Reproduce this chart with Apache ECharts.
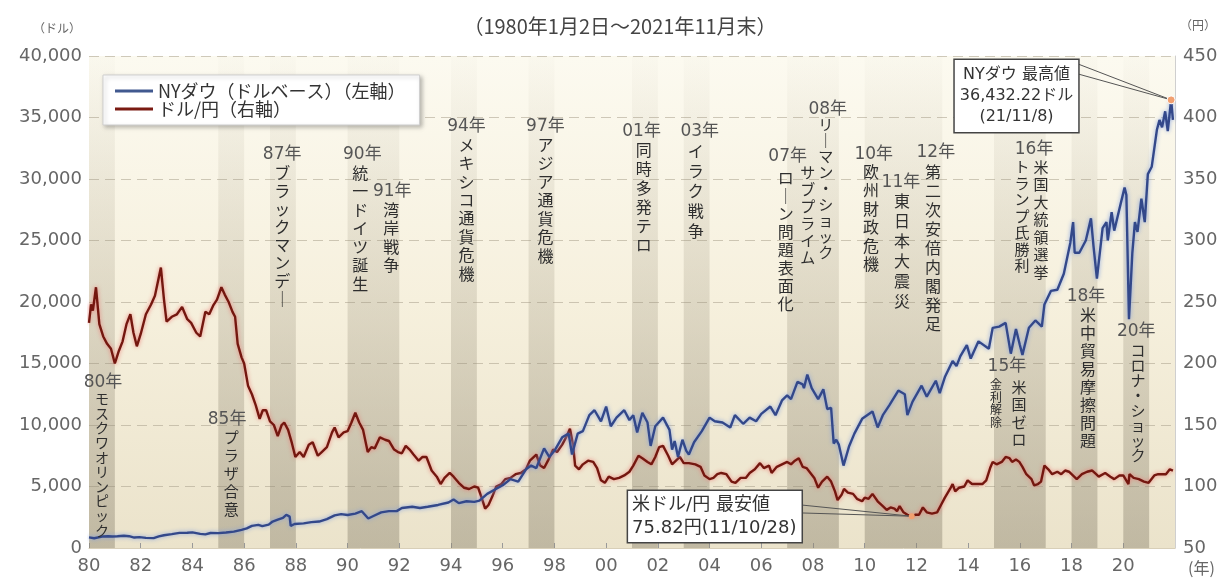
<!DOCTYPE html>
<html><head><meta charset="utf-8">
<script src="https://cdn.jsdelivr.net/npm/echarts@6/dist/echarts.min.js"></script>
<style>html,body{margin:0;padding:0;background:#fff}#c{width:1223px;height:579px}</style>
</head><body><div id="c"></div>
<script>
// ---------- DATA ----------
const dowT = [1980.00,1980.20,1980.50,1980.75,1980.90,1981.10,1981.35,1981.55,1981.75,1981.95,1982.20,1982.50,1982.70,1982.90,1983.20,1983.50,1983.80,1984.00,1984.30,1984.50,1984.70,1985.00,1985.30,1985.60,1985.90,1986.10,1986.30,1986.55,1986.70,1986.95,1987.10,1987.30,1987.50,1987.63,1987.76,1987.80,1987.95,1988.30,1988.60,1988.90,1989.20,1989.50,1989.75,1990.00,1990.30,1990.55,1990.80,1991.00,1991.30,1991.60,1991.90,1992.10,1992.50,1992.80,1993.10,1993.50,1993.90,1994.10,1994.30,1994.60,1994.90,1995.10,1995.40,1995.70,1996.00,1996.30,1996.60,1996.90,1997.10,1997.30,1997.60,1997.80,1998.00,1998.30,1998.55,1998.68,1998.90,1999.10,1999.35,1999.55,1999.80,2000.00,2000.18,2000.40,2000.70,2000.90,2001.05,2001.20,2001.40,2001.60,2001.72,2001.90,2002.20,2002.45,2002.55,2002.65,2002.78,2002.95,2003.10,2003.20,2003.40,2003.70,2004.00,2004.20,2004.50,2004.80,2004.98,2005.30,2005.55,2005.80,2006.00,2006.35,2006.55,2006.80,2007.00,2007.15,2007.40,2007.60,2007.65,2007.78,2007.95,2008.20,2008.40,2008.55,2008.70,2008.80,2008.90,2009.00,2009.18,2009.40,2009.60,2009.90,2010.30,2010.50,2010.70,2010.95,2011.30,2011.55,2011.65,2011.85,2012.20,2012.40,2012.75,2012.90,2013.10,2013.40,2013.55,2013.70,2013.95,2014.10,2014.40,2014.80,2014.95,2015.20,2015.45,2015.65,2015.85,2016.00,2016.10,2016.35,2016.60,2016.85,2016.95,2017.20,2017.45,2017.70,2017.95,2018.06,2018.12,2018.30,2018.55,2018.75,2018.85,2018.98,2019.20,2019.35,2019.40,2019.55,2019.65,2019.90,2020.05,2020.12,2020.22,2020.35,2020.45,2020.55,2020.70,2020.83,2020.95,2021.10,2021.30,2021.40,2021.50,2021.62,2021.72,2021.85,2021.92];
const dowV = [860,790,930,960,930,960,1000,960,850,880,820,800,940,1040,1130,1230,1240,1270,1150,1110,1220,1210,1260,1330,1480,1600,1800,1880,1780,1900,2150,2300,2450,2700,2550,1800,1950,2000,2100,2150,2350,2650,2750,2680,2800,2990,2400,2600,2900,3000,3000,3250,3350,3250,3350,3500,3700,3950,3650,3800,3750,3850,4400,4750,5100,5600,5400,6400,6700,6500,8100,7400,7900,9000,9300,7600,9300,9500,10800,11200,10300,11500,9900,10600,11200,10400,10800,9400,11000,10200,8300,9900,10600,9600,8000,8700,7400,8800,7900,7600,8600,9500,10600,10300,10200,9800,10800,10100,10600,10300,10900,11500,10800,12000,12400,12100,13500,13300,13000,14100,13000,12100,12900,11300,11400,8500,8800,8400,6700,8300,9300,10500,11100,9800,10800,11600,12800,12500,10800,11900,13200,12300,13600,12600,13900,15200,14800,15600,16500,15400,16800,16200,17900,18000,18300,15800,17800,16500,15700,17900,18500,18000,19800,20900,21000,22300,24800,26500,24000,24000,25000,26800,24500,21900,26000,26500,25000,27300,25800,28000,29300,28700,18600,24000,26500,25700,28400,26500,30400,31000,34000,34800,34200,35500,33900,36432,34800];

const yenT = [1980.00,1980.08,1980.15,1980.27,1980.40,1980.55,1980.70,1980.85,1981.00,1981.15,1981.30,1981.45,1981.60,1981.72,1981.85,1982.00,1982.20,1982.40,1982.55,1982.65,1982.78,1982.90,1983.00,1983.20,1983.40,1983.60,1983.80,1983.95,1984.15,1984.30,1984.50,1984.65,1984.80,1984.95,1985.12,1985.25,1985.40,1985.55,1985.65,1985.75,1985.90,1986.00,1986.15,1986.30,1986.45,1986.60,1986.72,1986.85,1987.00,1987.15,1987.30,1987.45,1987.55,1987.70,1987.85,1987.98,1988.15,1988.30,1988.50,1988.65,1988.85,1989.00,1989.20,1989.40,1989.50,1989.65,1989.85,1990.00,1990.15,1990.30,1990.45,1990.60,1990.78,1990.92,1991.05,1991.25,1991.45,1991.60,1991.80,1991.95,1992.10,1992.25,1992.40,1992.55,1992.75,1992.90,1993.05,1993.25,1993.45,1993.60,1993.75,1993.95,1994.10,1994.30,1994.50,1994.70,1994.90,1995.05,1995.20,1995.32,1995.45,1995.60,1995.75,1995.95,1996.10,1996.30,1996.50,1996.70,1996.90,1997.05,1997.30,1997.45,1997.60,1997.75,1997.95,1998.10,1998.30,1998.50,1998.60,1998.72,1998.80,1998.95,1999.10,1999.30,1999.50,1999.65,1999.80,1999.95,2000.10,2000.30,2000.50,2000.70,2000.90,2001.05,2001.25,2001.40,2001.60,2001.75,2001.90,2002.05,2002.20,2002.40,2002.55,2002.70,2002.85,2003.00,2003.20,2003.45,2003.65,2003.80,2004.00,2004.15,2004.30,2004.45,2004.65,2004.85,2005.00,2005.20,2005.40,2005.55,2005.75,2005.95,2006.10,2006.30,2006.40,2006.60,2006.80,2007.00,2007.15,2007.30,2007.45,2007.60,2007.75,2007.90,2008.05,2008.20,2008.35,2008.55,2008.70,2008.85,2008.95,2009.10,2009.20,2009.35,2009.55,2009.70,2009.90,2010.00,2010.15,2010.30,2010.50,2010.70,2010.85,2011.00,2011.15,2011.25,2011.35,2011.50,2011.65,2011.82,2011.95,2012.10,2012.25,2012.40,2012.60,2012.80,2012.95,2013.10,2013.30,2013.40,2013.50,2013.65,2013.85,2013.98,2014.15,2014.35,2014.55,2014.70,2014.85,2014.95,2015.10,2015.30,2015.45,2015.60,2015.70,2015.85,2015.98,2016.10,2016.25,2016.45,2016.55,2016.70,2016.82,2016.95,2017.10,2017.25,2017.45,2017.60,2017.75,2017.90,2018.10,2018.20,2018.40,2018.60,2018.80,2018.95,2019.05,2019.30,2019.50,2019.65,2019.85,2020.00,2020.20,2020.24,2020.40,2020.60,2020.80,2020.98,2021.20,2021.35,2021.50,2021.65,2021.80,2021.92];
const yenV = [233,248,243,262,232,222,216,212,200,210,218,232,240,225,214,224,240,248,255,265,278,252,234,238,240,246,236,233,225,222,242,240,247,252,262,256,250,242,238,216,205,200,182,175,166,155,162,162,153,150,141,150,152,146,135,124,128,124,134,136,125,128,132,144,148,140,144,145,152,160,152,146,128,132,131,140,138,137,130,128,127,133,130,126,121,124,124,113,108,102,107,111,108,103,99,98,100,99,90,82,85,92,100,102,106,107,110,111,114,121,126,117,115,121,130,128,134,142,147,134,117,114,118,121,120,115,105,103,108,106,107,109,112,117,125,123,120,118,124,132,133,125,118,121,124,119,119,118,116,109,106,107,110,111,110,104,103,107,107,111,114,119,115,117,111,116,118,120,118,121,123,116,115,111,107,99,104,108,104,96,89,93,98,95,94,90,88,91,90,94,88,84,81,83,82,80,84,79,77,75.82,77,77,83,79,78,79,85,91,98,102,96,99,100,105,102,102,102,105,115,120,118,120,124,123,120,122,120,116,110,106,101,102,104,117,114,110,112,110,113,112,108,106,110,112,113,110,108,111,108,106,109,109,102,110,107,106,104,103,109,110,110,110,114,113];

const seriesNames = ['NYダウ（ドルベース）（左軸）', 'ドル/円（右軸）'];
const bandStart = [1980,1985,1987,1990,1994,1997,2001,2003,2007,2010,2015,2018,2020];
const bandEnd   = [1981,1986,1988,1992,1995,1998,2002,2004,2009,2013,2017,2019,2021];

const eventYears = ['80年','85年','87年','90年','91年','94年','97年','01年','03年','07年','08年','10年','11年','12年','15年','16年','18年','20年'];
const eventTexts = [['モスクワオリンピック'],['プラザ合意'],['ブラックマンデー'],['統一ドイツ誕生'],['湾岸戦争'],['メキシコ通貨危機'],['アジア通貨危機'],['同時多発テロ'],['イラク戦争'],['サブプライム','ローン問題表面化'],['リーマン・ショック'],['欧州財政危機'],['東日本大震災'],['第二次安倍内閣発足'],['米国ゼロ','金利解除'],['米国大統領選挙','トランプ氏勝利'],['米中貿易摩擦問題'],['コロナ・ショック']];

const dowMax = {t:2021.85, v:36432.22, text:'NYダウ 最高値\n36,432.22ドル\n(21/11/8)'};
const yenMin = {t:2011.82, v:75.82, text:'米ドル/円 最安値\n75.82円(11/10/28)'};

// ---------- LAYOUT ----------
const FONT = "'Noto Sans CJK JP', sans-serif";
const NUMFONT = "'DejaVu Sans', 'Noto Sans CJK JP', sans-serif";
// [labelX, labelTopValue(left axis), [[colX, colTop, fontSize, lineHeight], ...]]
const eventLayout = [
 [1980.54,14230,[[1980.50,12760,14,14.6]]],
 [1985.34,11220,[[1985.50,9760,15,18]]],
 [1987.47,32760,[[1987.47,31300,16,18]]],
 [1990.57,32760,[[1990.49,31300,16,18.5]]],
 [1991.73,29760,[[1991.69,28290,16,18.5]]],
 [1994.60,35040,[[1994.60,33580,16,18.4]]],
 [1997.65,35040,[[1997.65,33580,16,18.5]]],
 [2001.37,34630,[[2001.45,33170,16,19]]],
 [2003.62,34630,[[2003.47,33170,16,20]]],
 [2007.02,32600,[[2007.80,31300,15,17],[2006.95,30890,16,18]]],
 [2008.57,36420,[[2008.49,35120,15,16]]],
 [2010.35,32760,[[2010.24,31380,16,18.5]]],
 [2011.40,30490,[[2011.44,29070,16,20]]],
 [2012.75,32930,[[2012.64,31380,16,19]]],
 [2015.50,15530,[[2015.97,13820,15,17.5],[2015.08,13820,12,12.5]]],
 [2016.55,33170,[[2016.82,31710,15,17.5],[2016.08,31710,15,16.5]]],
 [2018.56,21220,[[2018.64,19760,16,18]]],
 [2020.50,18370,[[2020.57,16750,15,15]]]
];
const vert = s => s.replace(/ー/g,'｜').split('').join('\n');

const eventPoints = [];
eventYears.forEach((y,i)=>{
  const L = eventLayout[i];
  eventPoints.push({coord:[L[0],L[1]], symbol:'circle', symbolSize:1, itemStyle:{color:'rgba(0,0,0,0)'},
    label:{show:true, position:'bottom', distance:0, formatter:y, fontSize:17, lineHeight:18, color:'#555', fontFamily:NUMFONT}});
  eventTexts[i].forEach((t,j)=>{
    const c = L[2][j];
    eventPoints.push({coord:[c[0],c[1]], symbol:'circle', symbolSize:1, itemStyle:{color:'rgba(0,0,0,0)'},
      label:{show:true, position:'bottom', distance:0, formatter:vert(t), fontSize:c[2], lineHeight:c[3], color:'#2e2e2e', fontFamily:FONT, align:'center'}});
  });
});

const bandGrad = new echarts.graphic.LinearGradient(0,0,0,1,[
  {offset:0, color:'rgba(150,142,120,0.02)'},
  {offset:0.35, color:'rgba(150,142,120,0.18)'},
  {offset:1, color:'rgba(140,132,112,0.45)'}]);

const chart = echarts.init(document.getElementById('c'));
chart.setOption({
  animation:false,
  grid:{left:89, right:48, top:56, bottom:31, show:true, borderWidth:0,
    backgroundColor:new echarts.graphic.LinearGradient(0,0,0,1,[
      {offset:0,color:'#fcfaf0'},{offset:0.5,color:'#f6f0dd'},{offset:1,color:'#ebe3cb'}])},
  graphic:[
    {type:'text', x:620, y:26, style:{text:'（1980年1月2日～2021年11月末）', fontSize:20, fontFamily:FONT, fill:'#444', align:'center', verticalAlign:'middle'}},
    {type:'text', x:33, y:22, style:{text:'（ドル）', fontSize:12, fontFamily:FONT, fill:'#666'}},
    {type:'text', x:1180, y:19, style:{text:'（円）', fontSize:12, fontFamily:FONT, fill:'#666'}},
    {type:'text', x:1188, y:560, style:{text:'(年)', fontSize:16, fontFamily:FONT, fill:'#666'}}
  ],
  legend:{left:103, top:75, orient:'vertical', itemWidth:38, itemHeight:3, itemGap:0,
    padding:[7,14,7,12], backgroundColor:'#fff', borderColor:'#cfcfcf', borderWidth:1,
    shadowColor:'rgba(0,0,0,0.25)', shadowBlur:4, shadowOffsetX:2, shadowOffsetY:2,
    textStyle:{fontSize:18, lineHeight:16, color:'#333', fontFamily:FONT},
    data:[{name:seriesNames[0], icon:'rect'},{name:seriesNames[1], icon:'rect'}]},
  xAxis:{type:'value', min:1980, max:2022, interval:2,
    axisLine:{show:true, lineStyle:{color:'#d8cfb8'}},
    axisTick:{show:true, inside:true, length:5, lineStyle:{color:'#999'}},
    splitLine:{show:false},
    axisLabel:{fontSize:18, color:'#666', fontFamily:NUMFONT, margin:9, showMaxLabel:false,
      formatter:v=> v>=2022 ? '' : String(v%100).padStart(2,'0')}},
  yAxis:[
    {type:'value', min:0, max:40000, interval:5000, position:'left',
      axisLine:{show:false}, axisTick:{show:false},
      splitLine:{show:true, lineStyle:{color:'rgba(170,160,140,0.55)', type:[10,6], width:1}},
      axisLabel:{fontSize:18, color:'#666', fontFamily:NUMFONT, margin:7,
        formatter:v=>v.toLocaleString('en-US')}},
    {type:'value', min:50, max:450, interval:50, position:'right',
      axisLine:{show:true, lineStyle:{color:'#cfcfcf'}}, axisTick:{show:false},
      splitLine:{show:false},
      axisLabel:{fontSize:18, color:'#666', fontFamily:NUMFONT, margin:8}}
  ],
  series:[
    {name:seriesNames[1], type:'line', yAxisIndex:1, z:2, showSymbol:false, symbol:'none',
      data:yenT.map((t,i)=>[t,yenV[i]]), color:'#7a1a12',
      lineStyle:{width:2.4, color:'#74170f', shadowColor:'rgba(235,120,115,0.9)', shadowBlur:4},
      markArea:{silent:true, itemStyle:{color:bandGrad},
        data:bandStart.map((s,i)=>[{xAxis:s},{xAxis:bandEnd[i]}])},
      markLine:{silent:true, symbol:'none', animation:false,
        lineStyle:{color:'#555', width:1, type:'solid'}, label:{show:false},
        data:[[{coord:[2007.55,84.96]},{coord:[yenMin.t,yenMin.v]}],[{coord:[2007.55,78.5]},{coord:[yenMin.t,yenMin.v]}]]},
      markPoint:{silent:true, data:[
        {coord:[yenMin.t,yenMin.v], symbol:'circle', symbolSize:6, itemStyle:{color:'#f2a070'}, label:{show:false}},
        {coord:[2000.83,75.6], symbol:'circle', symbolSize:1, itemStyle:{color:'rgba(0,0,0,0)'},
          label:{show:true, position:'right', distance:0, formatter:yenMin.text, fontSize:18, lineHeight:23,
            color:'#333', fontFamily:NUMFONT, align:'left', backgroundColor:'#fff', borderColor:'#444', borderWidth:1.5, padding:[3,5,2,4]}}
      ]}},
    {name:seriesNames[0], type:'line', yAxisIndex:0, z:3, showSymbol:false, symbol:'none',
      data:dowT.map((t,i)=>[t,dowV[i]]), color:'#41598f',
      lineStyle:{width:2.4, color:'#33488a', shadowColor:'rgba(130,160,225,0.9)', shadowBlur:4},
      markLine:{silent:true, symbol:'none', animation:false,
        lineStyle:{color:'#555', width:1, type:'solid'}, label:{show:false},
        data:[[{coord:[2018.25,39350]},{coord:[dowMax.t,dowMax.v]}],[{coord:[2018.25,38540]},{coord:[dowMax.t,dowMax.v]}]]},
      markPoint:{silent:true, data:[
        {coord:[dowMax.t,dowMax.v], symbol:'circle', symbolSize:8, itemStyle:{color:'#f2a070', borderColor:'#fff', borderWidth:1}, label:{show:false}},
        {coord:[2015.87,36750], symbol:'circle', symbolSize:1, itemStyle:{color:'rgba(0,0,0,0)'},
          label:{show:true, position:'inside', formatter:dowMax.text, fontSize:16, lineHeight:21,
            color:'#333', fontFamily:NUMFONT, align:'center', backgroundColor:'#fff', borderColor:'#444', borderWidth:1.5, padding:[5,5,4,5]}}
      ].concat(eventPoints)}}
  ]
});
</script></body></html>
